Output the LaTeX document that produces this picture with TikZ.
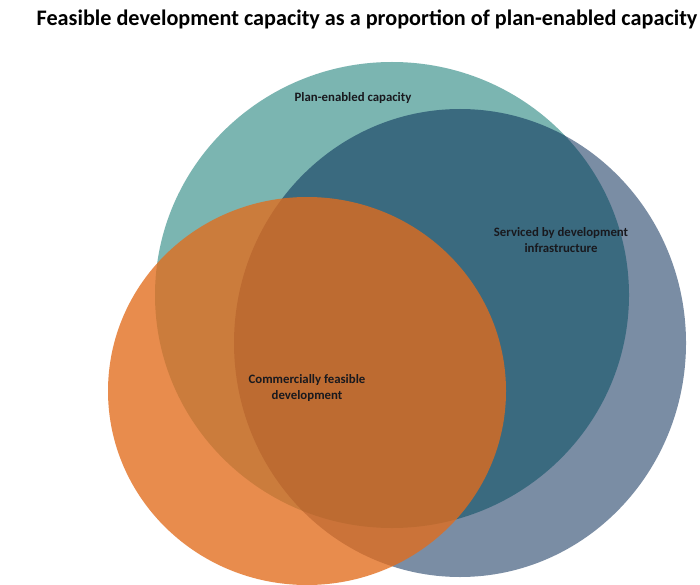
\documentclass[tikz,border=0pt]{standalone}
\usepackage{fontspec}
\setmainfont{Carlito}
\definecolor{tealc}{RGB}{123,181,177}
\definecolor{bluec}{RGB}{0,38,82}
\definecolor{orangec}{RGB}{226,108,28}
\definecolor{labelc}{RGB}{25,25,30}
\begin{document}
\begin{tikzpicture}[x=1pt,y=-1pt,
  lbl/.style={font=\bfseries\fontsize{12.8}{16}\selectfont, align=center, text=labelc, inner sep=0pt},
  titlestyle/.style={font=\bfseries\fontsize{22.2}{26}\selectfont, text=black, inner sep=0pt}]
\useasboundingbox (0,0) rectangle (700,585);
\fill[white] (0,0) rectangle (700,585);
% Plan-enabled capacity
\fill[tealc] (392,295) ellipse [x radius=237, y radius=233];
% Serviced by development infrastructure
\fill[bluec, fill opacity=0.52] (460,343) ellipse [x radius=226, y radius=234];
% Commercially feasible development
\fill[orangec, fill opacity=0.78] (307,391) ellipse [x radius=199, y radius=194];
% texts
\node[titlestyle] (title) at (367,19) {Feasible development capacity as a proportion of plan-enabled capacity};
\node[lbl] (plan) at (353,98) {Plan-enabled capacity};
\node[lbl] (serv) at (561,240) {Serviced by development\\infrastructure};
\node[lbl] (comm) at (307,388) {Commercially feasible\\development};
\end{tikzpicture}
\end{document}
